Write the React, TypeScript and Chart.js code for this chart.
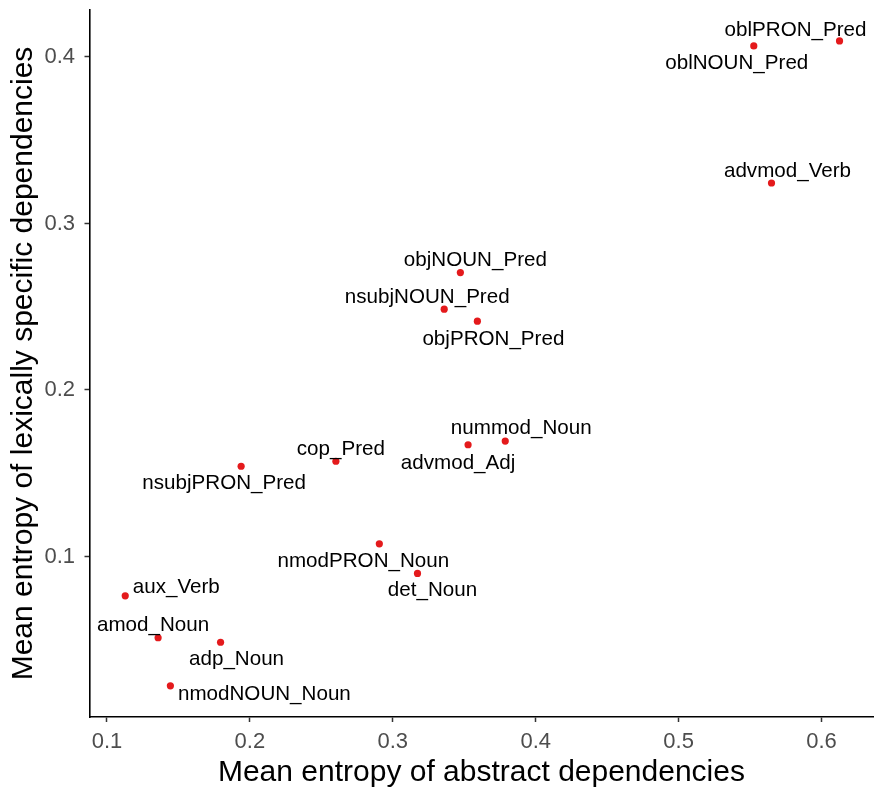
import React, { useEffect, useRef } from "react";
import { Chart, registerables } from "chart.js";

Chart.register(...registerables);

// ---- data ----
const dependencyNames = [
  "oblPRON_Pred",
  "oblNOUN_Pred",
  "advmod_Verb",
  "objNOUN_Pred",
  "nsubjNOUN_Pred",
  "objPRON_Pred",
  "cop_Pred",
  "nsubjPRON_Pred",
  "advmod_Adj",
  "nummod_Noun",
  "nmodPRON_Noun",
  "det_Noun",
  "aux_Verb",
  "amod_Noun",
  "adp_Noun",
  "nmodNOUN_Noun",
];

const abstractEntropy = [
  0.6126, 0.5526, 0.565, 0.3473, 0.336, 0.3592, 0.2602, 0.1939, 0.3527, 0.3787,
  0.2906, 0.3173, 0.1128, 0.1358, 0.1795, 0.1444,
];

const lexicalEntropy = [
  0.4096, 0.4066, 0.3243, 0.2705, 0.2485, 0.2413, 0.1572, 0.1542, 0.1671, 0.1693,
  0.1076, 0.0898, 0.0764, 0.0512, 0.0485, 0.0223,
];

const xTickValues = [0.1, 0.2, 0.3, 0.4, 0.5, 0.6];
const yTickValues = [0.1, 0.2, 0.3, 0.4];

const xAxisTitle = "Mean entropy of abstract dependencies";
const yAxisTitle = "Mean entropy of lexically specific dependencies";

// ---- label placement (repelled text offsets, pixels) ----
const labelOffsets: [number, number][] = [
  [-44, -12],
  [-17, 16],
  [16, -13],
  [15, -13],
  [-17, -13],
  [16, 17],
  [5, -13],
  [-17, 16],
  [-10, 18],
  [16, -14],
  [-16, 16],
  [15, 16],
  [51, -9],
  [-5, -13],
  [16, 16],
  [94, 7],
];

const FONT = "'Liberation Sans', Arial, sans-serif";

const pointLabelPlugin = {
  id: "pointLabels",
  afterDatasetsDraw(chart: any) {
    const meta = chart.getDatasetMeta(0);
    const ctx = chart.ctx;
    ctx.save();
    ctx.font = `20.6px ${FONT}`;
    ctx.fillStyle = "#000000";
    ctx.textAlign = "center";
    ctx.textBaseline = "middle";
    meta.data.forEach((el: any, i: number) => {
      const [dx, dy] = labelOffsets[i];
      ctx.fillText(dependencyNames[i], el.x + dx, el.y + dy + 1);
    });
    ctx.restore();
  },
};

export default function App() {
  const canvasRef = useRef<HTMLCanvasElement | null>(null);

  useEffect(() => {
    if (!canvasRef.current) return;
    const chart = new Chart(canvasRef.current, {
      type: "scatter",
      data: {
        datasets: [
          {
            data: abstractEntropy.map((x, i) => ({ x, y: lexicalEntropy[i] })),
            backgroundColor: "#e41a1c",
            borderWidth: 0,
            pointRadius: 3.6,
            pointHoverRadius: 3.6,
          },
        ],
      },
      options: {
        animation: false,
        responsive: false,
        devicePixelRatio: 1,
        layout: { padding: { left: 0, right: 1, top: 10, bottom: 0 } },
        plugins: {
          legend: { display: false },
          tooltip: { enabled: false },
        },
        scales: {
          x: {
            type: "linear",
            min: 0.0878,
            max: 0.6363,
            afterBuildTicks: (s: any) => {
              s.ticks = xTickValues.map((v) => ({ value: v }));
            },
            afterFit: (s: any) => {
              s.height = 71;
              s.paddingLeft = 0;
              s.paddingRight = 0;
              s.paddingTop = 0;
              s.paddingBottom = 0;
            },
            grid: {
              display: true,
              drawOnChartArea: false,
              drawTicks: true,
              tickLength: 5,
              tickColor: "#333333",
              tickWidth: 1.5,
            },
            border: { display: true, color: "#000000", width: 1.6 },
            ticks: {
              color: "#4d4d4d",
              font: { family: FONT, size: 22 },
              padding: 7,
              maxRotation: 0,
              callback: (v: any) => Number(v).toFixed(1),
            },
            title: {
              display: true,
              text: xAxisTitle,
              color: "#000000",
              font: { family: FONT, size: 30, lineHeight: 1 },
              padding: { top: 0, bottom: 0.6 },
            },
          },
          y: {
            type: "linear",
            min: 0.0036,
            max: 0.4282,
            afterBuildTicks: (s: any) => {
              s.ticks = yTickValues.map((v) => ({ value: v }));
            },
            afterFit: (s: any) => {
              s.width = 89.5;
              s.paddingLeft = 0;
              s.paddingRight = 0;
              s.paddingTop = 0;
              s.paddingBottom = 0;
            },
            grid: {
              display: true,
              drawOnChartArea: false,
              drawTicks: true,
              tickLength: 5,
              tickColor: "#333333",
              tickWidth: 1.5,
            },
            border: { display: true, color: "#000000", width: 1.6 },
            ticks: {
              color: "#4d4d4d",
              font: { family: FONT, size: 22 },
              padding: 9.5,
              callback: (v: any) => Number(v).toFixed(1),
            },
            title: {
              display: true,
              text: yAxisTitle,
              color: "#000000",
              font: { family: FONT, size: 30, lineHeight: 1 },
              padding: { top: 8.7, bottom: 0 },
            },
          },
        },
      },
      plugins: [pointLabelPlugin],
    });
    return () => chart.destroy();
  }, []);

  return (
    <div style={{ position: "absolute", left: 0, top: 0, width: 877, height: 788, background: "#ffffff" }}>
      <canvas ref={canvasRef} width={877} height={788} style={{ display: "block" }} />
    </div>
  );
}
